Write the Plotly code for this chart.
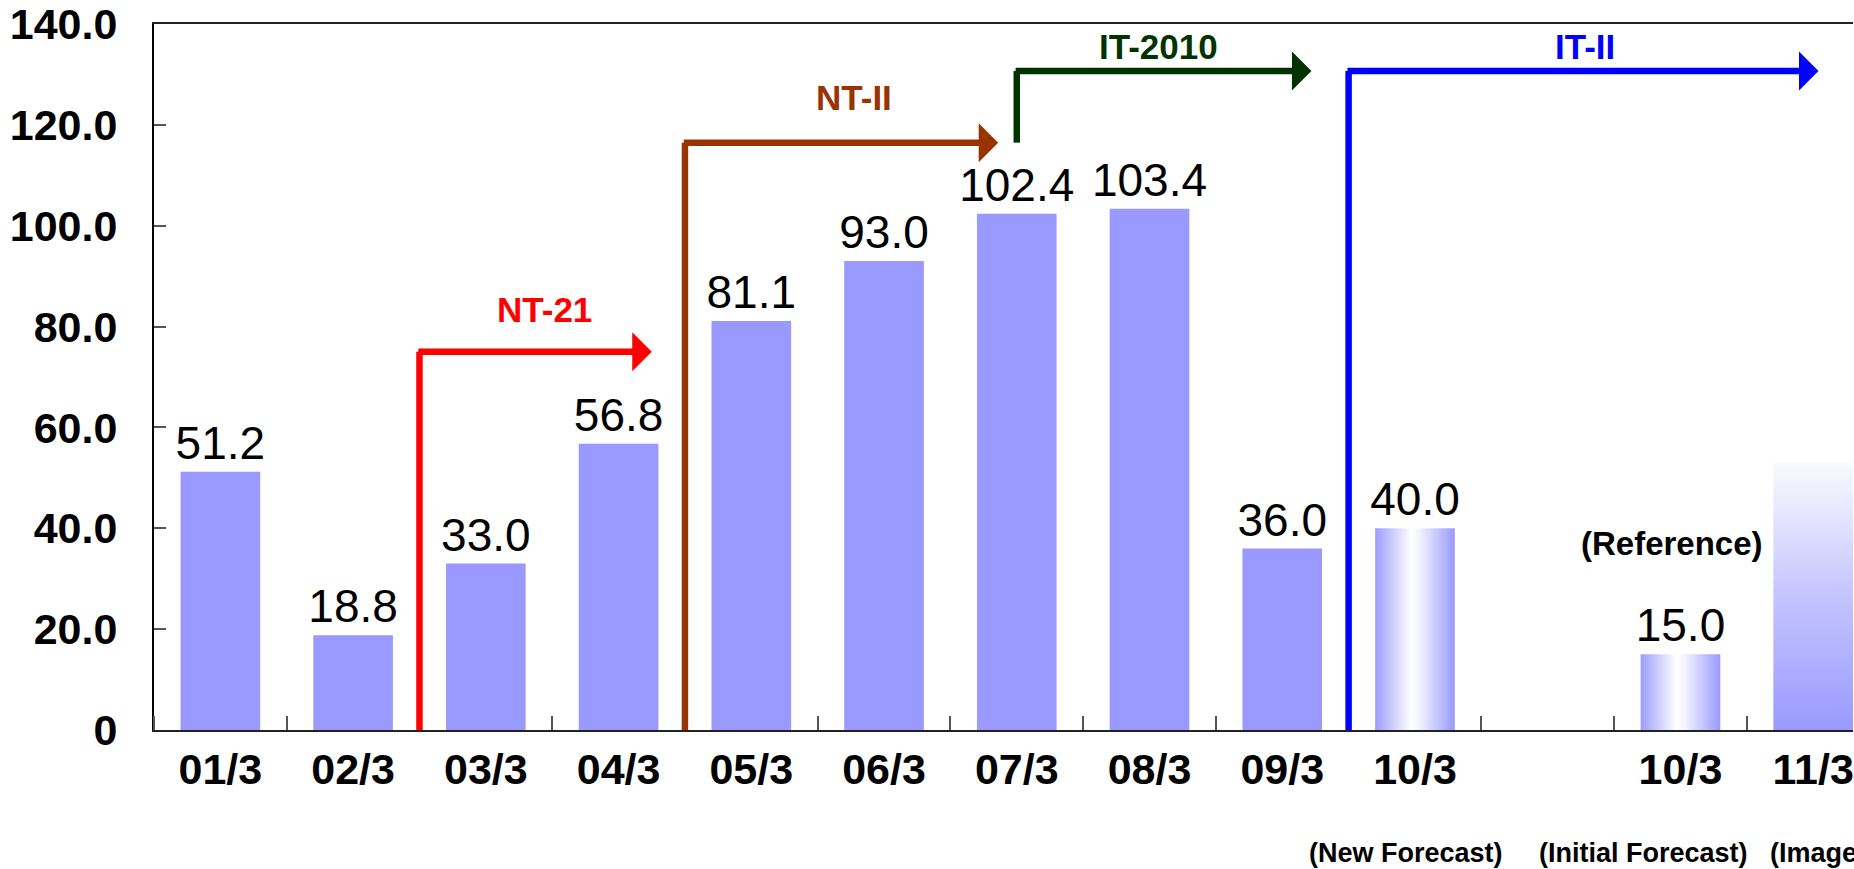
import plotly.graph_objects as go

# ---------------- data ----------------
categories = ["01/3", "02/3", "03/3", "04/3", "05/3", "06/3", "07/3", "08/3", "09/3",
              "10/3", "", "10/3", "11/3"]
values = [51.2, 18.8, 33.0, 56.8, 81.1, 93.0, 102.4, 103.4, 36.0, 40.0, None, 15.0, 53.0]
value_labels = ["51.2", "18.8", "33.0", "56.8", "81.1", "93.0", "102.4", "103.4", "36.0",
                "40.0", "", "15.0", ""]
sub_labels = ["(New Forecast)", "(Initial Forecast)", "(Image)"]
sub_label_x = [8.93, 10.72, 11.66]
y_ticks = [0, 20, 40, 60, 80, 100, 120, 140]
y_tick_text = ["0", "20.0", "40.0", "60.0", "80.0", "100.0", "120.0", "140.0"]

# plan arrows: name, colour, x of vertical, y bottom, y top (arrow level), x of tip, label x, label y
plans = [
    ("NT-21", "#FF0000", 1.5, 0, 75, 3.25, 2.44, 83.5),
    ("NT-II", "#993300", 3.5, 0, 116.5, 5.86, 4.77, 125.5),
    ("IT-2010", "#003300", 6.0, 116.5, 130.7, 8.22, 7.07, 135.5),
    ("IT-II", "#0000FF", 8.5, 0, 130.7, 12.04, 10.28, 135.5),
]

BAR_COLOR = "#9999FF"
BAR_W = 0.6
horiz_grad = [9, 11]
vert_grad = [12]

FONT = "Liberation Sans, Arial, sans-serif"

x_pos = list(range(len(categories)))
colors = []
for i in x_pos:
    if i in horiz_grad or i in vert_grad:
        colors.append("rgba(0,0,0,0)")
    else:
        colors.append(BAR_COLOR)

fig = go.Figure()
fig.add_trace(go.Bar(
    x=x_pos, y=values, width=BAR_W,
    marker=dict(color=colors, line=dict(width=0)),
    text=value_labels, textposition="outside", constraintext="none",
    textfont=dict(family=FONT, size=46, color="black"),
    cliponaxis=False, hoverinfo="skip", showlegend=False,
))

# gradient overlays
for i in horiz_grad + vert_grad:
    v = values[i]
    if i in horiz_grad:
        grad = dict(type="horizontal",
                    colorscale=[[0, "#9C9CFF"], [0.45, "#FFFFFF"], [0.55, "#F4F4FF"], [1, "#9999FF"]])
    else:
        grad = dict(type="vertical",
                    colorscale=[[0, "#9999FF"], [0.5, "#C4C4FF"], [1, "#FAFAFF"]])
    fig.add_trace(go.Scatter(
        x=[i - BAR_W / 2, i + BAR_W / 2, i + BAR_W / 2, i - BAR_W / 2, i - BAR_W / 2],
        y=[0, 0, v, v, 0],
        mode="none", fill="toself", fillgradient=grad,
        hoverinfo="skip", showlegend=False,
    ))

shapes = []
annotations = []
for name, col, xv, yb, yt, xtip, lx, ly in plans:
    shapes.append(dict(type="line", xref="x", yref="y", x0=xv, x1=xv, y0=yb, y1=yt,
                       line=dict(color=col, width=6.5)))
    annotations.append(dict(x=xtip, y=yt, ax=xv - 0.02, ay=yt, xref="x", yref="y",
                            axref="x", ayref="y", text="", showarrow=True,
                            arrowhead=1, arrowsize=1, arrowwidth=6.5, arrowcolor=col,
                            standoff=0, startstandoff=0))
    annotations.append(dict(x=lx, y=ly, xref="x", yref="y", text="<b>%s</b>" % name,
                            showarrow=False, font=dict(family=FONT, size=35, color=col),
                            xanchor="center", yanchor="middle"))

annotations.append(dict(x=10.94, y=37.0, xref="x", yref="y", text="<b>(Reference)</b>",
                        showarrow=False, font=dict(family=FONT, size=33, color="black"),
                        xanchor="center", yanchor="middle"))
for t, sx in zip(sub_labels, sub_label_x):
    annotations.append(dict(x=sx, y=(869 - 854 - 139) / 710.0, xref="x", yref="paper",
                            text="<b>%s</b>" % t,
                            showarrow=False, font=dict(family=FONT, size=27, color="black"),
                            xanchor="left" if t == "(Image)" else "center", yanchor="middle"))

fig.update_layout(
    width=1854, height=869,
    margin=dict(l=154, r=0, t=20, b=139, pad=0),
    paper_bgcolor="white", plot_bgcolor="white",
    shapes=shapes, annotations=annotations,
    bargap=0.4,
    font=dict(family=FONT, color="black"),
)
fig.update_xaxes(
    range=[-0.5, 12.3], tickmode="array", tickvals=x_pos, ticktext=categories,
    ticks="", tickfont=dict(family=FONT, size=43, color="black", weight="bold"),
    ticklabelstandoff=0, ticklabeloverflow="allow",
    showline=True, linecolor="#222222", linewidth=2, mirror=True,
    showgrid=False, zeroline=False,
    minor=dict(tickmode="array", tickvals=[k + 0.5 for k in range(-1, 13)],
               ticks="inside", ticklen=14, tickwidth=1.5, tickcolor="#555555"),
)
fig.update_yaxes(
    range=[0, 140.03], tickmode="array", tickvals=y_ticks, ticktext=y_tick_text,
    ticks="inside", ticklen=12, tickwidth=1.5, tickcolor="#555555",
    tickfont=dict(family=FONT, size=43, color="black", weight="bold"),
    ticklabelstandoff=26, ticklabeloverflow="allow",
    showline=True, linecolor="black", linewidth=2, mirror=False,
    showgrid=False, zeroline=False,
)

fig.write_html("out.html")
